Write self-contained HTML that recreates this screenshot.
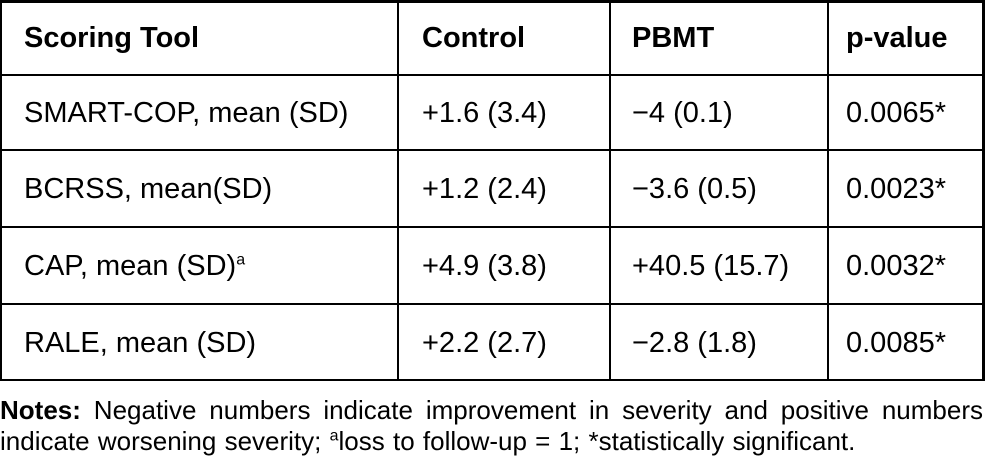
<!DOCTYPE html>
<html><head><style>
body{margin:0;width:985px;height:464px;background:#fff;position:relative;overflow:hidden;font-family:"Liberation Sans",sans-serif;color:#000}
.h{position:absolute;background:#000;height:2px}
.v{position:absolute;background:#000;width:2px;top:0;height:381px}
.t{position:absolute;font-size:29px;white-space:nowrap;line-height:1}
.b{font-weight:bold}
.n{position:absolute;left:0;font-size:26px;line-height:1;width:983px}
</style></head><body>
<div class="h" style="left:0;width:985px;top:0;height:3px"></div>
<div class="h" style="left:0;width:985px;top:74px"></div>
<div class="h" style="left:0;width:985px;top:149px"></div>
<div class="h" style="left:0;width:985px;top:226px"></div>
<div class="h" style="left:0;width:985px;top:303px"></div>
<div class="h" style="left:0;width:985px;top:379px"></div>
<div class="v" style="left:0"></div>
<div class="v" style="left:397px"></div>
<div class="v" style="left:609px"></div>
<div class="v" style="left:827px"></div>
<div class="v" style="left:982px;width:3px"></div>

<div class="t b" style="left:24px;top:24px">Scoring Tool</div>
<div class="t b" style="left:422px;top:24px">Control</div>
<div class="t b" style="left:632px;top:24px">PBMT</div>
<div class="t b" style="left:846px;top:24px">p-value</div>

<div class="t" style="left:24px;top:99px">SMART-COP, mean (SD)</div>
<div class="t" style="left:422px;top:99px">+1.6 (3.4)</div>
<div class="t" style="left:632px;top:99px">&minus;4 (0.1)</div>
<div class="t" style="left:846px;top:99px">0.0065*</div>

<div class="t" style="left:24px;top:175px">BCRSS, mean(SD)</div>
<div class="t" style="left:422px;top:175px">+1.2 (2.4)</div>
<div class="t" style="left:632px;top:175px">&minus;3.6 (0.5)</div>
<div class="t" style="left:846px;top:175px">0.0023*</div>

<div class="t" style="left:24px;top:252px">CAP, mean (SD)<sup style="font-size:16px">a</sup></div>
<div class="t" style="left:422px;top:252px">+4.9 (3.8)</div>
<div class="t" style="left:632px;top:252px">+40.5 (15.7)</div>
<div class="t" style="left:846px;top:252px">0.0032*</div>

<div class="t" style="left:24px;top:329px">RALE, mean (SD)</div>
<div class="t" style="left:422px;top:329px">+2.2 (2.7)</div>
<div class="t" style="left:632px;top:329px">&minus;2.8 (1.8)</div>
<div class="t" style="left:846px;top:329px">0.0085*</div>

<div class="n" style="top:397px;text-align:justify;text-align-last:justify"><b>Notes:</b> Negative numbers indicate improvement in severity and positive numbers</div>
<div class="n" style="top:428px;white-space:nowrap;word-spacing:1px">indicate worsening severity; <sup style="font-size:16px">a</sup>loss to follow-up = 1; *statistically significant.</div>
</body></html>
